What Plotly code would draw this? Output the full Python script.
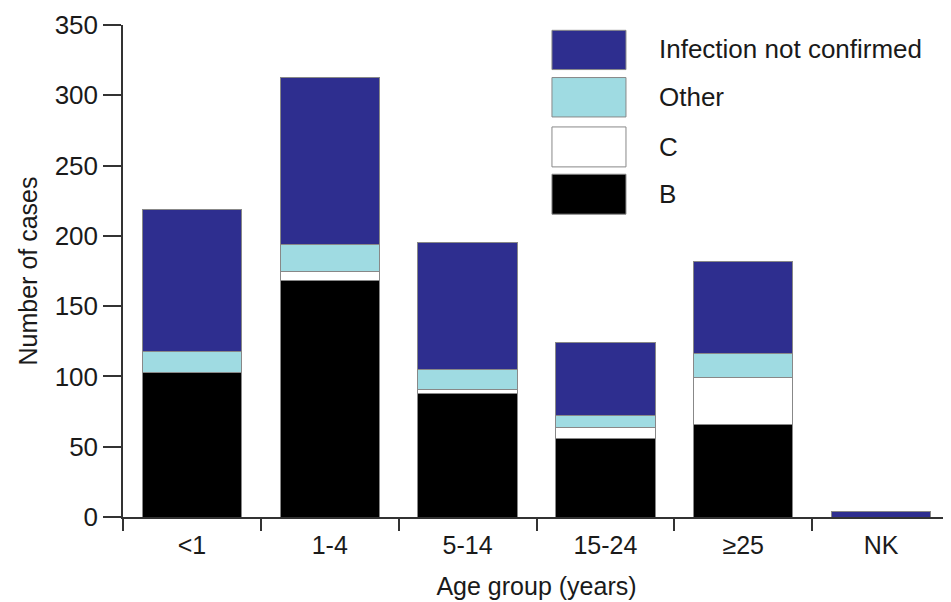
import plotly.graph_objects as go

categories = ["<1", "1-4", "5-14", "15-24", "≥25", "NK"]
b_vals = [103, 168, 88, 56, 66, 0]
c_vals = [0, 7, 3, 8, 33, 0]
other_vals = [15, 19, 14, 8, 17, 0]
inc_vals = [101, 119, 90, 52, 66, 4]

series_names = ["B", "C", "Other", "Infection not confirmed"]
series_vals = [b_vals, c_vals, other_vals, inc_vals]
series_colors = ["#000000", "#ffffff", "#9fdbe2", "#2e2e8f"]

font_family = "Liberation Sans, Arial, sans-serif"

fig = go.Figure()
for name, vals, col in zip(series_names, series_vals, series_colors):
    fig.add_trace(go.Bar(
        x=categories, y=vals, name=name,
        marker=dict(color=col, line=dict(color="#888888", width=1)),
        width=0.72, showlegend=False,
    ))

# Legend drawn as swatches + labels (large swatches like the reference)
leg_y = [(0.9094, 0.9892), (0.8131, 0.8932), (0.7116, 0.7928), (0.6155, 0.6967)]
leg_text_y = [0.9521, 0.8538, 0.7522, 0.6575]
leg_order = ["Infection not confirmed", "Other", "C", "B"]
for (y0, y1), ty, nm in zip(leg_y, leg_text_y, leg_order):
    col = series_colors[series_names.index(nm)]
    fig.add_shape(type="rect", xref="paper", yref="paper",
                  x0=0.5187, x1=0.6082, y0=y0, y1=y1,
                  fillcolor=col, line=dict(color="#888888", width=1))
    fig.add_annotation(xref="paper", yref="paper", x=0.6453, y=ty,
                       text=nm, showarrow=False, xanchor="left", yanchor="middle",
                       font=dict(size=26, color="#1a1a1a", family=font_family))

fig.update_layout(
    barmode="stack",
    width=951, height=602,
    margin=dict(l=115, r=9, t=17, b=93, autoexpand=False),
    plot_bgcolor="white", paper_bgcolor="white",
    font=dict(family=font_family, size=25, color="#1a1a1a"),
    xaxis=dict(
        range=[-0.5, 5.5], showline=True, linecolor="#333333", linewidth=1.5,
        ticks="outside", tickson="boundaries", ticklen=12, tickcolor="#333333",
        tickwidth=1.5, showgrid=False, zeroline=False, automargin=False,
        ticklabelstandoff=5,
        title=dict(text="Age group (years)", font=dict(size=25), standoff=20),
        tickfont=dict(size=25),
    ),
    yaxis=dict(
        range=[0, 350], dtick=50, showline=True, linecolor="#333333", linewidth=1.5,
        ticks="outside", ticklen=18, tickcolor="#333333", tickwidth=1.5,
        showgrid=False, zeroline=False, automargin=False,
        title=dict(text="Number of cases", font=dict(size=25), standoff=10),
        tickfont=dict(size=26),
    ),
)

fig.write_html("out.html")
